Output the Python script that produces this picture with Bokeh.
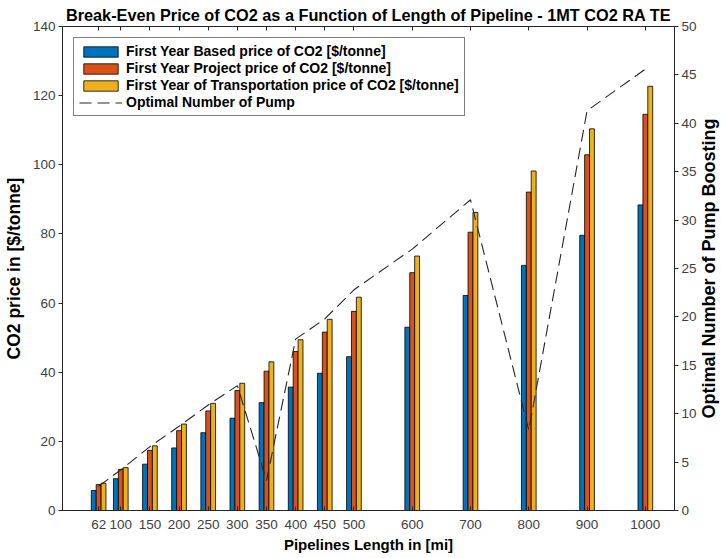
from bokeh.plotting import figure
from bokeh.models import Range1d, LinearAxis, FixedTicker, Legend, LegendItem, ColumnDataSource, Label
from bokeh.transform import dodge
from bokeh.embed import file_html
from bokeh.resources import INLINE
import math

# ---- data ----
lengths = [62, 100, 150, 200, 250, 300, 350, 400, 450, 500, 600, 700, 800, 900, 1000]
based_price = [5.8, 9.2, 13.4, 18.1, 22.5, 26.7, 31.2, 35.7, 39.7, 44.5, 53.0, 62.2, 70.9, 79.6, 88.4]
project_price = [7.5, 11.9, 17.4, 23.1, 28.8, 34.7, 40.3, 46.0, 51.6, 57.6, 68.8, 80.5, 92.1, 102.9, 114.6]
transport_price = [7.9, 12.4, 18.7, 25.0, 31.0, 36.8, 43.0, 49.4, 55.3, 61.7, 73.6, 86.2, 98.2, 110.4, 122.7]
pump_count = [2.5, 4.2, 6.6, 8.7, 10.9, 12.9, 3.1, 17.7, 19.8, 22.8, 27.0, 32.1, 8.3, 41.3, 45.6]
x_tick_values = [62, 100, 150, 200, 250, 300, 350, 400, 450, 500, 600, 700, 800, 900, 1000]
left_ticks = [0, 20, 40, 60, 80, 100, 120, 140]
right_ticks = [0, 5, 10, 15, 20, 25, 30, 35, 40, 45, 50]

src = ColumnDataSource(dict(length=lengths, based=based_price, project=project_price,
                            transport=transport_price, pumps=pump_count))

FONT = "Liberation Sans"
TICK_COLOR = "#404040"
AX_COLOR = "#262626"
W, H = 721, 558
BL, BR, BT, BB = 62, 47, 26, 48

p = figure(width=W, height=H, output_backend="svg", toolbar_location=None,
           x_range=Range1d(0, 1050), y_range=Range1d(0, 140),
           min_border_left=BL, min_border_right=BR, min_border_top=BT, min_border_bottom=BB)
p.background_fill_color = "white"
p.border_fill_color = "white"
p.outline_line_color = AX_COLOR
p.xgrid.visible = False
p.ygrid.visible = False

p.title.text = "Break-Even Price of CO2 as a Function of Length of Pipeline - 1MT CO2 RA TE"
p.title.align = "center"
p.title.text_font = FONT
p.title.text_font_size = "16.3px"
p.title.text_font_style = "bold"
p.title.text_color = "black"
p.title.standoff = 6

bw = 8.4
r1 = p.vbar(x=dodge("length", -bw, range=p.x_range), top="based", width=bw, source=src,
            fill_color="#0072BD", line_color="black", line_width=0.8)
r2 = p.vbar(x=dodge("length", 0, range=p.x_range), top="project", width=bw, source=src,
            fill_color="#D95319", line_color="black", line_width=0.8)
r3 = p.vbar(x=dodge("length", bw, range=p.x_range), top="transport", width=bw, source=src,
            fill_color="#EDB120", line_color="black", line_width=0.8)

p.extra_y_ranges = {"pumps": Range1d(0, 50)}
r4 = p.line("length", "pumps", source=src, y_range_name="pumps",
            line_color="#262626", line_width=1.1, line_dash="12 6")

# bottom axis
xa = p.xaxis[0]
xa.ticker = FixedTicker(ticks=x_tick_values)
xa.axis_label = "Pipelines Length in [mi]"
xa.major_tick_in = 4
xa.major_tick_out = 0
xa.minor_tick_line_color = None
xa.major_label_standoff = 9
xa.axis_label_standoff = 4

# left axis
ya = p.yaxis[0]
ya.ticker = FixedTicker(ticks=left_ticks)
ya.axis_label = "CO2 price in [$/tonne]"
ya.major_tick_in = 0
ya.major_tick_out = 4
ya.minor_tick_line_color = None
ya.major_label_standoff = 3
ya.axis_label_standoff = 6

# right axis: ticks and numbers
ra = LinearAxis(y_range_name="pumps", ticker=FixedTicker(ticks=right_ticks))
ra.major_tick_in = 0
ra.major_tick_out = 4
ra.minor_tick_line_color = None
ra.major_label_standoff = 3
p.add_layout(ra, "right")

# top axis (ticks only, box-style)
ta = LinearAxis(ticker=FixedTicker(ticks=x_tick_values))
ta.major_tick_in = 4
ta.major_tick_out = 0
ta.minor_tick_line_color = None
ta.major_label_overrides = {t: "" for t in x_tick_values}
ta.major_label_standoff = 0
p.add_layout(ta, "above")

for ax in [xa, ya, ra, ta]:
    ax.axis_line_color = AX_COLOR
    ax.major_tick_line_color = AX_COLOR
    ax.major_label_text_font = FONT
    ax.major_label_text_font_size = "13.5px" if ax is not ta else "1px"
    ax.major_label_text_color = TICK_COLOR
    ax.axis_label_text_font = FONT
    ax.axis_label_text_font_style = "bold"
    ax.axis_label_text_color = "black"
xa.axis_label_text_font_size = "15px"
ya.axis_label_text_font_size = "17.5px"

# right axis title, reading bottom-to-top, placed in the right border panel
right_title = Label(x=W - 13, y=BT + (H - BT - BB) / 2, x_units="canvas", y_units="canvas",
                    text="Optimal Number of Pump Boosting", angle=math.pi / 2,
                    text_align="center", text_baseline="middle",
                    text_font=FONT, text_font_size="18px", text_font_style="bold",
                    text_color="black")
p.add_layout(right_title, "right")

legend = Legend(items=[
    LegendItem(label="First Year Based price of CO2 [$/tonne]", renderers=[r1]),
    LegendItem(label="First Year Project price of CO2 [$/tonne]", renderers=[r2]),
    LegendItem(label="First Year of Transportation price of CO2 [$/tonne]", renderers=[r3]),
    LegendItem(label="Optimal Number of Pump", renderers=[r4]),
], location="top_left")
legend.margin = 11
legend.padding = 5
legend.spacing = 1
legend.glyph_width = 43
legend.glyph_height = 13
legend.label_standoff = 4
legend.label_text_font = FONT
legend.label_text_font_size = "14px"
legend.label_text_font_style = "bold"
legend.label_text_color = "black"
legend.label_height = 16
legend.border_line_color = "black"
legend.border_line_width = 1
legend.background_fill_color = "white"
legend.background_fill_alpha = 1
p.add_layout(legend)

open("out.html", "w").write(file_html(p, INLINE))
